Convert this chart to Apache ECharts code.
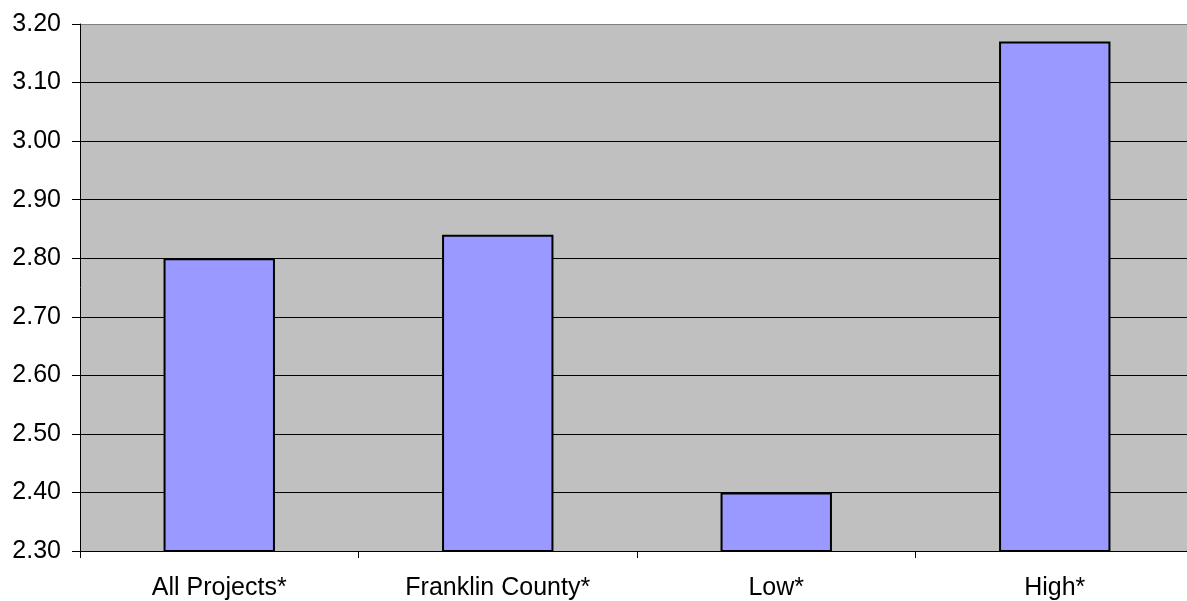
<!DOCTYPE html>
<html>
<head>
<meta charset="utf-8">
<script src="https://cdn.jsdelivr.net/npm/echarts@6/dist/echarts.min.js"></script>
<style>
  html, body { margin: 0; padding: 0; background: #ffffff; }
  #chart { width: 1187px; height: 601px; }
</style>
</head>
<body>
<div id="chart"></div>
<script>
// Categories and their values
const categories = ['All Projects*', 'Franklin County*', 'Low*', 'High*'];
const values = [2.80, 2.84, 2.40, 3.17];
// Value axis range
const yMin = 2.30;
const yMax = 3.20;
const yStep = 0.10;

const labelFont = 'Liberation Sans, Arial, sans-serif';

const chart = echarts.init(document.getElementById('chart'));
chart.setOption({
  animation: false,
  grid: {
    left: 80,
    top: 24,
    width: 1114,
    height: 527,
    containLabel: false,
    outerBoundsMode: 'none',
    show: true,
    backgroundColor: '#c0c0c0',
    borderWidth: 0
  },
  xAxis: {
    type: 'category',
    data: categories,
    axisLine: { show: true, lineStyle: { color: '#000000', width: 1 } },
    axisTick: { show: true, length: 7, alignWithLabel: false, lineStyle: { color: '#000000' } },
    axisLabel: {
      color: '#000000',
      fontFamily: labelFont,
      fontSize: 25,
      margin: 25
    },
    splitLine: { show: false }
  },
  yAxis: {
    type: 'value',
    min: yMin,
    max: yMax,
    interval: yStep,
    axisLine: { show: true, lineStyle: { color: '#000000', width: 1 } },
    axisTick: { show: true, length: 8, lineStyle: { color: '#000000' } },
    axisLabel: {
      color: '#000000',
      fontFamily: labelFont,
      fontSize: 25,
      margin: 19,
      formatter: v => v.toFixed(2)
    },
    splitLine: {
      show: true,
      lineStyle: {
        color: ['#000000', '#000000', '#000000', '#000000', '#000000', '#000000', '#000000', '#000000', '#000000', '#808080'],
        width: 1
      }
    }
  },
  series: [{
    type: 'bar',
    data: values,
    barWidth: '40%',
    itemStyle: {
      color: '#9999ff',
      borderColor: '#000000',
      borderWidth: 2
    }
  }]
});
</script>
</body>
</html>
